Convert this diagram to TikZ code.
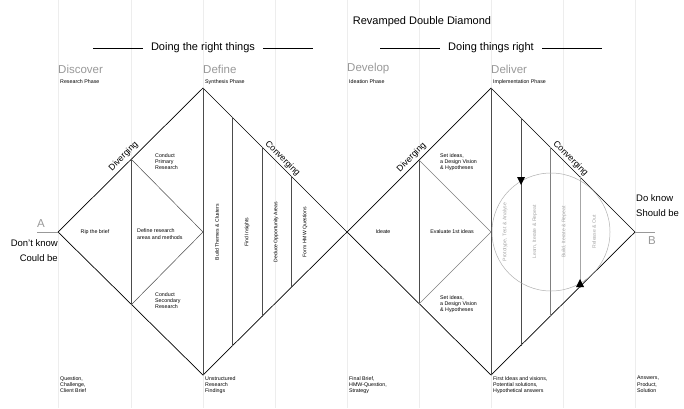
\documentclass[tikz,border=0pt]{standalone}
\usepackage{fontspec}
\setmainfont{Liberation Sans}
\usetikzlibrary{arrows.meta}
\begin{document}
\begin{tikzpicture}[x=1pt,y=-1pt,
  dline/.style={draw=black,line width=0.7pt},
  thin/.style={draw=black!70,line width=0.5pt},
  grid/.style={draw=black!7,line width=0.4pt},
  small/.style={font=\fontsize{5.3}{6.4}\selectfont,align=left,anchor=north west,inner sep=0pt},
  mid/.style={font=\fontsize{5.3}{6.4}\selectfont,align=left,inner sep=0pt},
  rot/.style={font=\fontsize{5.1}{6}\selectfont,rotate=90,inner sep=0pt},
  phase/.style={font=\fontsize{11.5}{13}\selectfont,text=black!40,anchor=west,inner sep=0pt},
  head/.style={font=\fontsize{11}{13}\selectfont,inner sep=0pt},
  diag/.style={font=\fontsize{8.8}{10}\selectfont,anchor=south,inner sep=2pt}]
\useasboundingbox[fill=white] (0,0) rectangle (684,408);
\foreach \x in {58,131,203,275,347,419,491,563,635} \draw[grid] (\x,0) -- (\x,408);
% titles
\node[head] (title) at (422,22) {Revamped Double Diamond};
\node[head,inner xsep=8pt] (h1) at (203,48) {Doing the right things};
\node[head,inner xsep=8pt] (h2) at (491,48) {Doing things right};
\draw[line width=0.5pt] (93,48) -- (h1.west); \draw[line width=0.5pt] (h1.east) -- (313,48);
\draw[line width=0.5pt] (380,48) -- (h2.west); \draw[line width=0.5pt] (h2.east) -- (602,48);
\node[phase] (p1) at (58,69) {Discover};
\node[phase] (p2) at (203,69) {Define};
\node[phase] (p3) at (347,69) {Develop};
\node[phase] (p4) at (491,69) {Deliver};
\node[small] (s1) at (60,79) {Research Phase};
\node[small] (s2) at (205,79) {Synthesis Phase};
\node[small] (s3) at (349,79) {Ideation Phase};
\node[small] (s4) at (493,79) {Implementation Phase};
% diamonds
\coordinate (L1) at (58,232); \coordinate (T1) at (203,88); \coordinate (B1) at (203,375); \coordinate (M) at (347,232);
\coordinate (T2) at (491,88); \coordinate (B2) at (491,375); \coordinate (R2) at (635,232);
\draw[dline] (L1) -- (T1) -- (M) -- (B1) -- cycle;
\draw[dline] (M) -- (T2) -- (R2) -- (B2) -- cycle;
% diamond 1 internals
\draw[thin] (131,159) -- (131,305);
\draw[thin] (131,159) -- (203,232) -- (131,305);
\draw[thin] (203,88) -- (203,375);
\draw[thin] (232,117) -- (232,346);
\draw[thin] (262,147) -- (262,317);
\draw[thin] (291,176) -- (291,288);
% diamond 2 internals
\draw[thin] (419,160) -- (419,304);
\draw[thin,draw=black!50] (419,160) -- (491,232) -- (419,304);
\draw[thin] (491,88) -- (491,375);
\draw[thin] (521,118) -- (521,346);
\draw[thin,draw=black!50] (550,147) -- (550,317);
\draw[thin,draw=black!35] (580,176) -- (580,288);
\draw[draw=black!30,line width=0.5pt] (551,232) circle (59);
\fill (517,177) -- (525,177) -- (521,185) -- cycle;
\fill (576,287) -- (584,287) -- (580,279) -- cycle;
% diagonal labels
\node[diag,rotate=45] (dv1) at (128,161) {Diverging};
\node[diag,rotate=-45] (cv1) at (278,163) {Converging};
\node[diag,rotate=45] (dv2) at (416,162) {Diverging};
\node[diag,rotate=-45] (cv2) at (566,163) {Converging};
% texts diamond 1
\node[mid] (t1) at (95,232) {Rip the brief};
\node[mid,anchor=west] (t2) at (137,234) {Define research\\areas and methods};
\node[small] (t3) at (155,153) {Conduct\\Primary\\Research};
\node[small] (t4) at (155,292) {Conduct\\Secondary\\Research};
\node[rot] (r1) at (217,232) {Build Themes \& Clusters};
\node[rot] (r2) at (247,232) {Find Insights};
\node[rot] (r3) at (276,232) {Deduce Opportunity Areas};
\node[rot] (r4) at (305,232) {Form HMW Questions};
% texts diamond 2
\node[mid] (t5) at (383,232) {Ideate};
\node[mid] (t6) at (452,232) {Evaluate 1st ideas};
\node[small] (t7) at (440,153) {Set ideas,\\a Design Vision\\\& Hypotheses};
\node[small] (t8) at (440,295) {Set ideas,\\a Design Vision\\\& Hypotheses};
\node[rot,text=black!35] (r5) at (505,232) {Prototype, Test \& Analyse};
\node[rot,text=black!35] (r6) at (535,232) {Learn, Iterate \& Repeat};
\node[rot,text=black!35] (r7) at (564,232) {Build, Iterate \& Repeat};
\node[rot,text=black!35] (r8) at (594,232) {Release \& Out};
% ends
\node[font=\fontsize{11.5}{13}\selectfont,text=black!40,inner sep=0pt] (A) at (41,224) {A};
\draw[draw=black!40,line width=0.5pt] (37,232) -- (L1);
\node[font=\fontsize{9.5}{15}\selectfont,align=right,anchor=north east,inner sep=0pt] (dk) at (58,239) {Don't know\\Could be};
\node[font=\fontsize{11.5}{13}\selectfont,text=black!40,inner sep=0pt] (B) at (652,241) {B};
\draw[draw=black!40,line width=0.5pt] (R2) -- (655,232);
\node[font=\fontsize{9.5}{15}\selectfont,align=left,anchor=north west,inner sep=0pt] (dok) at (636,194) {Do know\\Should be};
% bottom
\node[small] (b1) at (60,376) {Question,\\Challenge,\\Client Brief};
\node[small] (b2) at (205,376) {Unstructured\\Research\\Findings};
\node[small] (b3) at (349,376) {Final Brief,\\HMW-Question,\\Strategy};
\node[small] (b4) at (493,376) {First Ideas and visions,\\Potential solutions,\\Hypothetical answers};
\node[small] (b5) at (637,376) {Answers,\\Product,\\Solution};
\end{tikzpicture}
\end{document}
